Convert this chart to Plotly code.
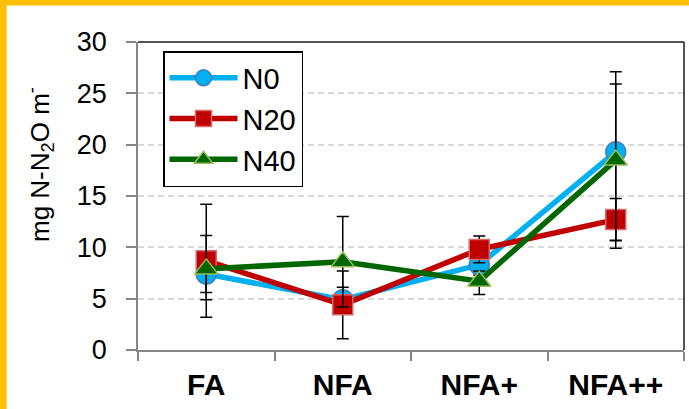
import plotly.graph_objects as go

categories = ["FA", "NFA", "NFA+", "NFA++"]
n0 = [7.4, 4.9, 8.3, 19.3]
n20 = [8.7, 4.4, 9.8, 12.7]
n40 = [7.9, 8.6, 6.7, 18.5]
n0_err_plus = [1.8, 1.2, 1.0, 7.8]
n0_err_minus = [1.8, 1.2, 1.0, 8.6]
n20_err_plus = [5.5, 3.3, 1.3, 2.05]
n20_err_minus = [5.5, 3.3, 1.3, 2.05]
n40_err_plus = [3.26, 4.4, 1.0, 7.4]
n40_err_minus = [3.0, 4.4, 1.3, 8.6]

FONT = "Arial, Liberation Sans, sans-serif"
W, H = 689, 409
L, R, T, B = 138, 5, 42, 59
pw, ph = W - L - R, H - T - B


def px(x):
    return (x - L) / pw


def py(y):
    return (H - B - y) / ph


fig = go.Figure()

series = [
    ("N0", n0, n0_err_plus, n0_err_minus, "#00B0F0", "#00B0F0", "#4A7EBB", "circle", 20),
    ("N20", n20, n20_err_plus, n20_err_minus, "#C00000", "#C00000", "#D46A6A", "square", 20),
    ("N40", n40, n40_err_plus, n40_err_minus, "#006600", "#006600", "#9BBB59", "triangle-up", 20),
]
for name, vals, ep, em, lc, fc, mc, sym, sz in series:
    fig.add_trace(go.Scatter(
        x=categories, y=vals, name=name, mode="lines+markers",
        line=dict(color=lc, width=5.5),
        marker=dict(symbol=sym, size=sz, color=fc, line=dict(color=mc, width=1.5)),
        error_y=dict(type="data", symmetric=False, array=ep, arrayminus=em,
                     color="black", thickness=1.5, width=6),
        legendgroup=name,
    ))

shapes = [
    dict(type="line", xref="paper", yref="paper", x0=0, x1=1, y0=1, y1=1,
         line=dict(color="#1a1a1a", width=1.5)),
    dict(type="line", xref="paper", yref="paper", x0=1, x1=1, y0=0, y1=1,
         line=dict(color="#1a1a1a", width=1.5)),
    dict(type="rect", xref="paper", yref="paper", x0=px(0), x1=px(6.7), y0=py(H), y1=py(0),
         fillcolor="#FFC000", line=dict(width=0), layer="above"),
    dict(type="rect", xref="paper", yref="paper", x0=px(0), x1=px(W), y0=py(5.5), y1=py(0),
         fillcolor="#FFC000", line=dict(width=0), layer="above"),
]

fig.update_layout(
    width=W, height=H,
    margin=dict(l=L, r=R, t=T, b=B, pad=0, autoexpand=False),
    paper_bgcolor="white", plot_bgcolor="white",
    font=dict(family=FONT, color="black"),
    shapes=shapes,
    showlegend=True,
    legend=dict(
        x=px(163), y=py(51), xanchor="left", yanchor="top",
        bordercolor="black", borderwidth=1.5, bgcolor="white",
        font=dict(size=29, family=FONT, color="black"),
        itemwidth=68, tracegroupgap=0,
    ),
    annotations=[dict(
        text="mg N-N<sub>2</sub>O m<sup>-</sup>", xref="paper", yref="paper",
        x=px(40), y=py(165), xanchor="center", yanchor="middle",
        textangle=-90, showarrow=False, font=dict(size=26, family=FONT, color="black"),
    )],
)

fig.update_xaxes(
    type="category", range=[-0.5, 3.5], tickson="boundaries",
    ticks="outside", ticklen=9, tickcolor="#868686", tickwidth=1.5,
    showline=True, linecolor="#868686", linewidth=1.5,
    showgrid=False, zeroline=False, automargin=False,
    tickfont=dict(size=30, family=FONT, color="black", weight="bold"),
    ticklabelstandoff=7,
)
fig.update_yaxes(
    range=[0, 30], dtick=5, tick0=0,
    ticks="outside", ticklen=10, tickcolor="#868686", tickwidth=1.5,
    showline=True, linecolor="#868686", linewidth=1.5,
    showgrid=True, gridcolor="#D9D9D9", gridwidth=1.5, griddash="6px,4px",
    zeroline=False, automargin=False,
    tickfont=dict(size=27, family=FONT, color="black"),
    ticklabelstandoff=14,
)

fig.write_html(
    "out.html",
    config={"displayModeBar": False},
    post_script="document.body.style.margin='0px';document.body.style.padding='0px';",
)
